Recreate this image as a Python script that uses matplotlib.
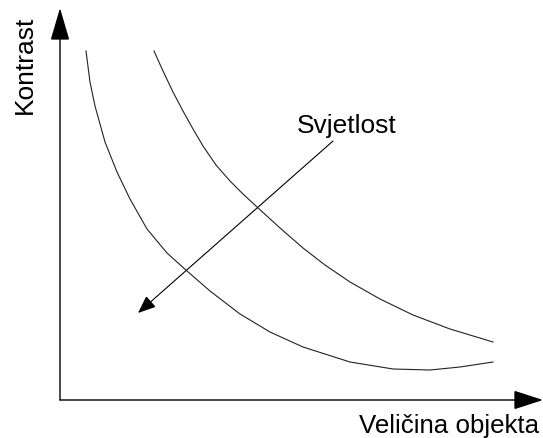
import matplotlib
matplotlib.use("Agg")
import matplotlib.pyplot as plt
from matplotlib.patches import FancyArrowPatch, ArrowStyle

# Coordinates (pixel space of the 543x439 image)
curve1_x = [86, 90, 95, 105, 117, 130, 147, 167, 187, 210, 240, 270, 303, 350, 393, 430, 460, 493]
curve1_y = [52, 83, 107, 143, 173, 200, 230, 254, 272, 292, 315, 333, 348, 363, 370, 371, 368, 363]
curve2_x = [154, 163, 173, 183, 193, 203, 216, 230, 243, 257, 280, 303, 325, 350, 380, 413, 450, 493]
curve2_y = [52, 72, 93, 112, 130, 147, 166, 182, 195, 208, 229, 249, 266, 283, 300, 316, 330, 343]

origin = (60, 401)
y_axis_tip = (60, 9)
x_axis_tip = (543, 401)
light_start = (333, 142)
light_tip = (138, 314)

y_label = "Kontrast"
x_label = "Veličina objekta"
light_label = "Svjetlost"

fig = plt.figure(figsize=(5.43, 4.39), dpi=100)
ax = fig.add_axes([0, 0, 1, 1])
ax.set_xlim(0, 543)
ax.set_ylim(439, 0)
ax.axis("off")

font = ["Liberation Sans", "DejaVu Sans"]

ax.plot(curve1_x, curve1_y, color="#222222", lw=0.8, solid_joinstyle="round")
ax.plot(curve2_x, curve2_y, color="#222222", lw=0.8, solid_joinstyle="round")

def arrow(start, tip, hl, hw, lw):
    p = FancyArrowPatch(start, tip,
                        arrowstyle=ArrowStyle("-|>", head_length=hl, head_width=hw),
                        mutation_scale=10, shrinkA=0, shrinkB=0,
                        color="black", lw=lw, joinstyle="miter")
    ax.add_patch(p)

arrow(origin, y_axis_tip, 2.05, 0.6, 1.0)
arrow(origin, x_axis_tip, 1.85, 0.6, 1.0)
arrow(light_start, light_tip, 1.1, 0.45, 0.8)

ax.text(32, 65, y_label, rotation=90, ha="center", va="baseline",
        fontsize=19, family=font, rotation_mode="anchor")
ax.text(539, 433, x_label, ha="right", va="baseline", fontsize=18.6, family=font)
ax.text(297, 133, light_label, ha="left", va="baseline", fontsize=19, family=font)

fig.savefig("out.png", dpi=100)
